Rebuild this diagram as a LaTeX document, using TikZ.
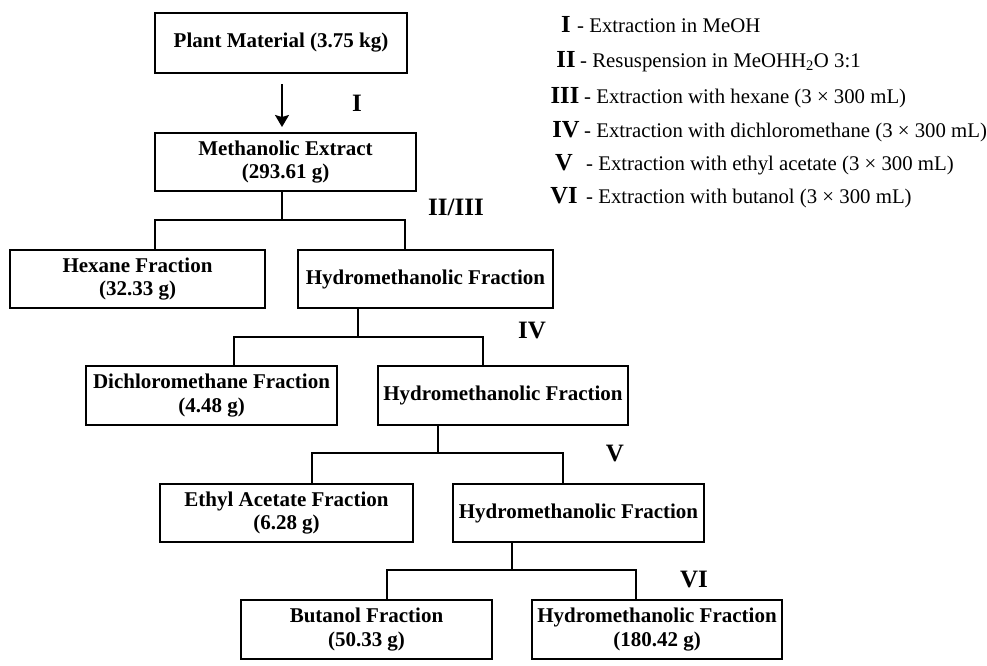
\documentclass[tikz,border=0pt]{standalone}
\usepackage{fontspec}
\setmainfont{Liberation Serif}
\usetikzlibrary{arrows.meta,calc}
\begin{document}
\begin{tikzpicture}[x=1pt,y=-1pt,
  fbox/.style={draw, line width=1.6pt, inner sep=0pt, outer sep=0pt, align=center,
    font=\bfseries\fontsize{21}{23.5}\selectfont},
  conn/.style={line width=1.6pt},
  steplabel/.style={font=\bfseries\fontsize{25}{28}\selectfont, anchor=base},
  legnum/.style={font=\bfseries\fontsize{24.5}{27}\selectfont, anchor=base},
  legtext/.style={font=\fontsize{20.8}{24}\selectfont, anchor=base west, inner sep=0pt}]
\useasboundingbox[fill=white] (0,0) rectangle (987,665);

% boxes
\node[fbox, minimum width=252pt, minimum height=60pt] (pm) at (281,43) {Plant Material (3.75 kg)};
\node[fbox, minimum width=261pt, minimum height=58pt] (me) at (285.5,162) {Methanolic Extract\\(293.61 g)};
\node[fbox, minimum width=255pt, minimum height=58pt] (hex) at (137.5,279) {Hexane Fraction\\(32.33 g)};
\node[fbox, minimum width=255pt, minimum height=58pt] (hy1) at (425.5,279) {Hydromethanolic Fraction};
\node[fbox, minimum width=251pt, minimum height=59pt] (dcm) at (211.5,395.5) {Dichloromethane Fraction\\(4.48 g)};
\node[fbox, minimum width=250pt, minimum height=59pt] (hy2) at (503,395.5) {Hydromethanolic Fraction};
\node[fbox, minimum width=253pt, minimum height=58pt] (ea) at (286.5,513) {Ethyl Acetate Fraction\\(6.28 g)};
\node[fbox, minimum width=251pt, minimum height=58pt] (hy3) at (578.5,513) {Hydromethanolic Fraction};
\node[fbox, minimum width=251pt, minimum height=59pt] (but) at (366.5,629.5) {Butanol Fraction\\(50.33 g)};
\node[fbox, minimum width=250pt, minimum height=59pt] (hy4) at (657,629.5) {Hydromethanolic Fraction\\(180.42 g)};

% arrow I
\coordinate (a0) at (282,84);
\coordinate (a1) at (282,127);
\draw[conn, -{Stealth[length=12pt,width=14pt,inset=2pt]}] (a0) -- (a1);

% splits
\coordinate (s1) at (282,220); \coordinate (l1) at (155,220); \coordinate (r1) at (405,220);
\draw[conn] (me.south -| s1) -- (s1);
\draw[conn] (l1 |- hex.north) -- (l1) -- (r1) -- (r1 |- hy1.north);

\coordinate (s2) at (358,337); \coordinate (l2) at (234,337); \coordinate (r2) at (483,337);
\draw[conn] (hy1.south -| s2) -- (s2);
\draw[conn] (l2 |- dcm.north) -- (l2) -- (r2) -- (r2 |- hy2.north);

\coordinate (s3) at (438,453); \coordinate (l3) at (312,453); \coordinate (r3) at (563,453);
\draw[conn] (hy2.south -| s3) -- (s3);
\draw[conn] (l3 |- ea.north) -- (l3) -- (r3) -- (r3 |- hy3.north);

\coordinate (s4) at (512,570); \coordinate (l4) at (387,570); \coordinate (r4) at (636,570);
\draw[conn] (hy3.south -| s4) -- (s4);
\draw[conn] (l4 |- but.north) -- (l4) -- (r4) -- (r4 |- hy4.north);

% step labels
\node[steplabel] (tI) at (357,111) {I};
\node[steplabel] (tII) at (456,215) {II/III};
\node[steplabel] (tIV) at (532,338) {IV};
\node[steplabel] (tV) at (615,461) {V};
\node[steplabel] (tVI) at (694,587) {VI};

% legend
\node[legnum] (n1) at (566,32) {I};
\node[legtext] (t1) at (577,32) {- Extraction in MeOH};
\node[legnum] (n2) at (566,67) {II};
\node[legtext] (t2) at (580,67) {- Resuspension in MeOHH\textsubscript{2}O 3:1};
\node[legnum] (n3) at (565,103) {III};
\node[legtext] (t3) at (584,103) {- Extraction with hexane (3 × 300 mL)};
\node[legnum] (n4) at (566,137) {IV};
\node[legtext] (t4) at (584,137) {- Extraction with dichloromethane (3 × 300 mL)};
\node[legnum] (n5) at (564,170) {V};
\node[legtext] (t5) at (586,170) {- Extraction with ethyl acetate (3 × 300 mL)};
\node[legnum] (n6) at (564,203) {VI};
\node[legtext] (t6) at (586,203) {- Extraction with butanol (3 × 300 mL)};
\end{tikzpicture}
\end{document}
